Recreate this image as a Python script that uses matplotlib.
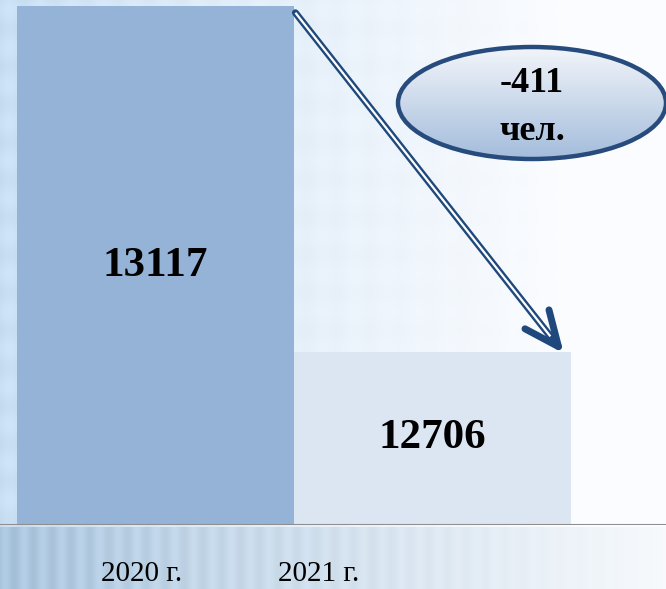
import numpy as np
import matplotlib.pyplot as plt
from matplotlib.patches import Ellipse

# data
years = ['2020 г.', '2021 г.']
people = [13117, 12706]
change = people[1] - people[0]   # -411
unit = 'чел.'

bar_colors = ['#95b3d7', '#dce6f2']
dark = '#1f497d'
serif = 'Liberation Serif'

W, H = 666, 589
fig = plt.figure(figsize=(W / 100, H / 100), dpi=100)

# background: light blue fading to white, with a faint plaid texture
bg = fig.add_axes([0, 0, 1, 1], zorder=0)
X, Y = np.meshgrid(np.arange(W), np.arange(H))
t = np.clip(X / (W * 0.85), 0, 1) ** 0.8
left = np.array([0.78, 0.87, 0.95])
right = np.array([0.985, 0.99, 1.0])
img = left * (1 - t[..., None]) + right * t[..., None]
tex = 0.012 * (np.sin(X / 5.0) + np.sin(Y / 6.0)) * (1 - t)
img = img + tex[..., None]
strip = Y > 526
sl = np.array([0.66, 0.77, 0.87])
sr = np.array([0.97, 0.98, 0.99])
ts = np.clip(X / W, 0, 1) ** 0.9
simg = sl * (1 - ts[..., None]) + sr * ts[..., None]
simg = simg + (0.03 * np.sin(X / 3.0) * (1 - ts))[..., None]
img[strip] = simg[strip]
bg.imshow(np.clip(img, 0, 1), extent=[0, W, H, 0], aspect='auto')
bg.set_xlim(0, W)
bg.set_ylim(H, 0)
bg.axis('off')

# bars
ax = fig.add_axes([0, 64 / H, 1, 525 / H], zorder=1)
ax.patch.set_alpha(0)
base = 12500
ax.set_ylim(base, base + 525 / (519 / (people[0] - base)))
ax.set_xlim(-155.5 / 277, (W - 155.5) / 277)
x = np.arange(len(people))
ax.bar(x, people, width=1.0, color=bar_colors, zorder=2)
for xi, v in zip(x, people):
    ax.text(xi, (base + v) / 2, str(v), ha='center', va='center',
            fontsize=31, fontweight='bold', family=serif, zorder=3)
ax.axhline(base, color='#8f8f8f', lw=1.5, zorder=3)
for s in ax.spines.values():
    s.set_visible(False)
ax.set_yticks([])
ax.set_xticks([-0.05, 0.59], years, fontsize=21, family=serif)
ax.tick_params(axis='x', length=0, pad=26)

# arrow (double line with open head)
x0, y0 = 0.505, people[0] - 8
x1, y1 = 1.474, people[1] - 2
ax.annotate('', xy=(x1, y1), xytext=(x0, y0),
            arrowprops=dict(arrowstyle='->,head_length=2.5,head_width=1.1',
                            lw=5.0, color=dark, shrinkA=0, shrinkB=0,
                            capstyle='round', joinstyle='round'), zorder=4)
f = 0.95
ax.plot([x0, x0 + f * (x1 - x0)], [y0, y0 + f * (y1 - y0)],
        color='white', lw=1.6, zorder=5, solid_capstyle='butt')

# ellipse callout
ov = fig.add_axes([0, 0, 1, 1], zorder=2)
ov.set_xlim(0, W)
ov.set_ylim(H, 0)
ov.axis('off')
ov.patch.set_alpha(0)
cx, cy, ew, eh = 532, 103, 268, 112
ell = Ellipse((cx, cy), ew, eh, facecolor='none', edgecolor='#264b7c', lw=3.2, zorder=3)
ov.add_patch(ell)
grad = np.linspace(0, 1, 100)[:, None]
c_top = np.array([0.95, 0.96, 0.98])
c_bot = np.array([0.64, 0.74, 0.86])
gimg = c_top * (1 - grad[..., None]) + c_bot * grad[..., None]
gimg = np.repeat(gimg, 2, axis=1)
im = ov.imshow(gimg, extent=[cx - ew / 2, cx + ew / 2, cy + eh / 2, cy - eh / 2],
               aspect='auto', zorder=2)
im.set_clip_path(ell)
ov.text(cx, 83, f'{change}', ha='center', va='center', fontsize=26,
        fontweight='bold', family=serif, zorder=4)
ov.text(cx, 131, unit, ha='center', va='center', fontsize=26,
        fontweight='bold', family=serif, zorder=4)

fig.savefig('out.png', dpi=100)
